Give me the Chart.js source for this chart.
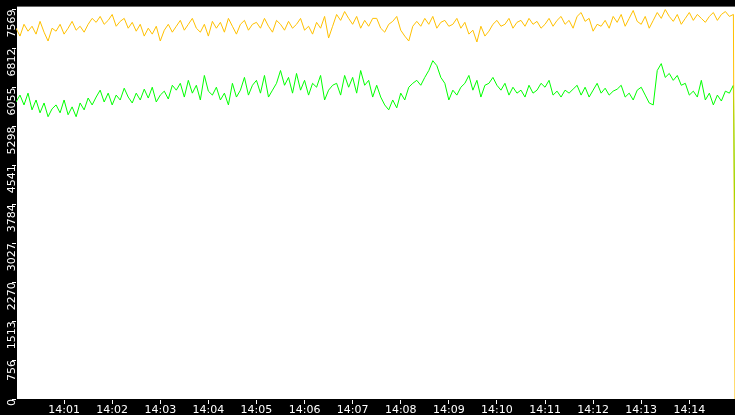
<!DOCTYPE html>
<html>
<head>
<meta charset="utf-8">
<script src="https://cdn.jsdelivr.net/npm/chart.js@4"></script>
<style>
  html, body { margin: 0; padding: 0; background: #000; }
  #wrap { width: 735px; height: 415px; }
</style>
</head>
<body>
<div id="wrap"><canvas id="c"></canvas></div>
<script>
// seconds after 14:00:00, one sample every 5s
const step = 5;
const yTicks = [0, 756, 1513, 2270, 3027, 3784, 4541, 5298, 6055, 6812, 7569];

const orangeVals = [
  7206,7053,7282,7148,7244,7091,7339,7129,6957,7206,
  7148,7282,7091,7206,7339,7167,7244,7129,7282,7397,
  7320,7435,7282,7358,7473,7244,7339,7397,7206,7320,
  7148,7282,7053,7206,7091,7244,6957,7167,7282,7129,
  7244,7358,7167,7282,7397,7206,7129,7282,7053,7339,
  7206,7320,7129,7397,7244,7091,7282,7358,7167,7282,
  7320,7206,7397,7244,7129,7358,7282,7167,7339,7206,
  7282,7397,7167,7244,7091,7320,7206,7435,7015,7244,
  7473,7358,7530,7397,7282,7435,7206,7358,7244,7397,
  7397,7206,7129,7282,7339,7435,7167,7053,6957,7244,
  7339,7244,7397,7282,7435,7206,7320,7358,7244,7282,
  7397,7206,7320,7091,7167,6938,7244,7053,7148,7282,
  7358,7244,7282,7397,7206,7320,7358,7244,7397,7282,
  7339,7206,7282,7397,7244,7358,7435,7282,7358,7206,
  7435,7511,7339,7397,7148,7282,7244,7358,7206,7435,
  7320,7473,7244,7397,7550,7339,7282,7435,7206,7358,
  7511,7397,7569,7435,7339,7473,7282,7397,7511,7358,
  7473,7397,7320,7435,7511,7358,7473,7530,7435,7473
];

const greenVals = [
  5772,5906,5715,5944,5619,5811,5562,5753,5486,5639,
  5715,5562,5811,5524,5677,5486,5753,5619,5849,5715,
  5868,6002,5772,5944,5715,5906,5811,6040,5868,5753,
  5944,5811,6021,5849,6059,5772,5906,5983,5830,6097,
  6002,6135,5868,6193,5944,6097,5811,6288,5983,5906,
  6059,5811,5944,5715,6135,5868,6002,6250,5906,6097,
  6193,5944,6288,5868,6002,6135,6384,6097,6250,5944,
  6327,6002,6193,5906,6135,6059,6288,5811,6002,6097,
  6135,5906,6288,6059,6250,5944,6384,6097,6193,5868,
  6097,5868,5715,5619,5811,5658,5944,5811,6059,6135,
  6193,6097,6250,6384,6575,6479,6250,6135,5811,6002,
  5906,6059,6135,6288,6002,6193,5868,6097,6135,6250,
  6097,6002,6135,5906,6059,5944,6002,5868,6097,5944,
  6002,6135,6059,6193,5906,5983,5868,6002,5944,6021,
  6097,5906,6059,5868,6002,6135,5944,6040,5906,5983,
  6021,6097,5868,5944,5811,6002,6059,5906,5753,5715,
  6384,6518,6250,6327,6193,6288,6097,6135,5906,5983,
  5868,6193,5811,5944,5715,5906,5791,5983,5944,6097
];

// last samples where the trace falls off at the right edge
const endTime = 897;
const orangeEnd = 0;
const greenEnd = 3080;

function toPoints(vals, endVal) {
  const pts = vals.map((v, i) => ({ x: i * step, y: v }));
  pts.push({ x: endTime, y: endVal });
  return pts;
}

const bgPlugin = {
  id: 'bg',
  beforeDraw(chart) {
    const ctx = chart.ctx, a = chart.chartArea;
    ctx.save();
    ctx.fillStyle = '#000';
    ctx.fillRect(0, 0, chart.width, chart.height);
    ctx.fillStyle = '#fff';
    ctx.fillRect(a.left, a.top, a.right - a.left, a.bottom - a.top);
    ctx.restore();
  }
};

new Chart(document.getElementById('c'), {
  type: 'line',
  data: {
    datasets: [
      { data: toPoints(orangeVals, orangeEnd), borderColor: '#ffc000', borderWidth: 1, pointRadius: 0, tension: 0 },
      { data: toPoints(greenVals, greenEnd), borderColor: '#00ff00', borderWidth: 1, pointRadius: 0, tension: 0 }
    ]
  },
  options: {
    responsive: true,
    maintainAspectRatio: false,
    animation: false,
    layout: { padding: { top: -7, right: 0, bottom: 0, left: 0 } },
    plugins: { legend: { display: false }, tooltip: { enabled: false } },
    scales: {
      x: {
        type: 'linear', min: 0, max: endTime,
        grid: { drawOnChartArea: false, color: '#fff', tickLength: 5 },
        border: { color: '#000' },
        afterBuildTicks(s) { s.ticks = []; for (let t = 60; t < endTime; t += 60) s.ticks.push({ value: t }); },
        afterFit(s) { s.height = 16; },
        ticks: {
          color: '#fff', maxRotation: 0, padding: 0,
          font: { family: 'DejaVu Sans', size: 11 },
          callback: v => '14:' + String(Math.round(v / 60)).padStart(2, '0')
        }
      },
      y: {
        min: 0, max: 7626,
        grid: { drawOnChartArea: false, color: '#fff', tickLength: 4 },
        border: { color: '#000' },
        afterBuildTicks(s) { s.ticks = yTicks.map(v => ({ value: v })); },
        afterFit(s) { s.width = 16; },
        ticks: {
          color: '#fff', minRotation: 90, maxRotation: 90, padding: 0,
          font: { family: 'DejaVu Sans', size: 11 },
          callback: v => String(v)
        }
      }
    }
  },
  plugins: [bgPlugin]
});
</script>
</body>
</html>
